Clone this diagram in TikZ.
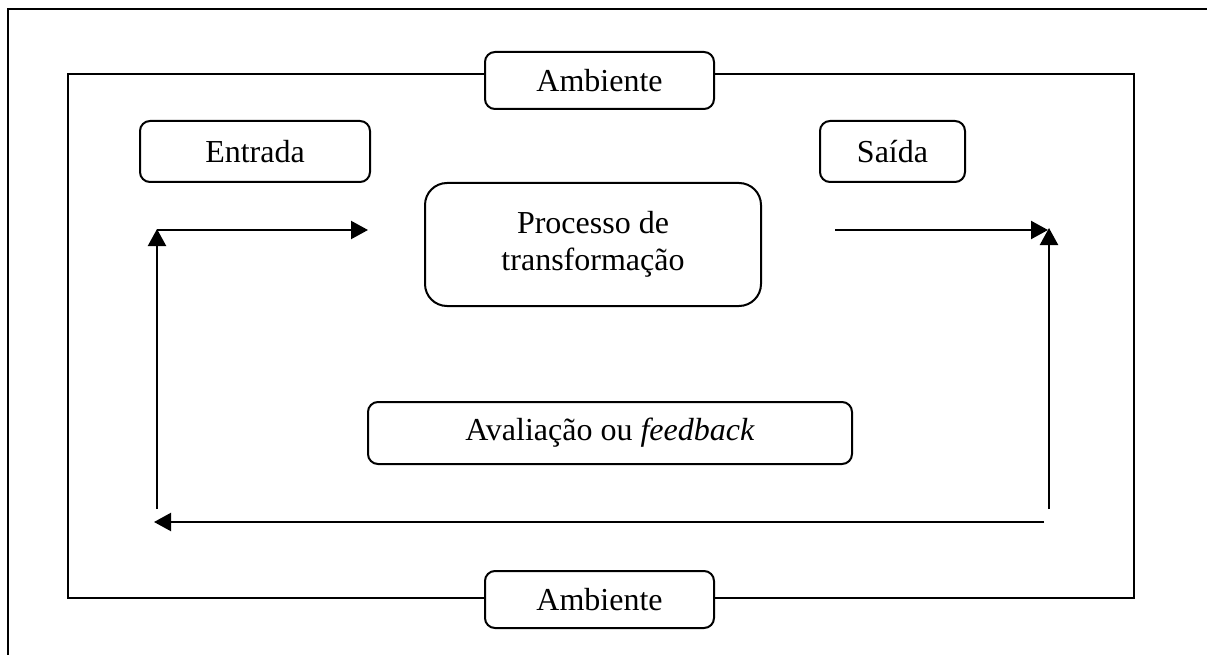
\documentclass[tikz,border=0pt]{standalone}
\usepackage{fontspec}
\setmainfont{Liberation Serif}
\usetikzlibrary{arrows.meta}
\begin{document}
\begin{tikzpicture}[x=1pt,y=-1pt,
  line width=2pt,
  box/.style={draw, line width=2pt, rounded corners=10pt, fill=white,
    inner sep=0pt, align=center, font=\fontsize{32}{37}\selectfont},
  flow/.style={line width=2.2pt, -{Triangle[length=17pt,width=18pt]}}
]
\useasboundingbox (0,0) rectangle (1207,655);
% outer frame (only top and left edges visible)
\draw[line width=2pt] (8,655) -- (8,9) -- (1207,9);
% inner environment rectangle
\draw[line width=2pt] (68,74) rectangle (1134,598);

\node[box, minimum width=229pt, minimum height=57pt] (ambtop) at (599.5,80.5) {Ambiente};
\node[box, minimum width=229pt, minimum height=57pt] (ambbot) at (599.5,599.5) {Ambiente};
\node[box, minimum width=230pt, minimum height=61pt] (entrada) at (255,151.5) {Entrada};
\node[box, minimum width=145pt, minimum height=61pt] (saida) at (892.5,151.5) {Saída};
\node[box, rounded corners=22pt, minimum width=336pt, minimum height=123pt] (proc) at (593,244.5) {Processo de\\transformação};
\node[box, minimum width=484pt, minimum height=62pt] (aval) at (610,433) {Avaliação ou \textit{feedback}};

\coordinate (lb) at (157,509);
\coordinate (lt) at (157,229);
\coordinate (inp) at (368,230);
\coordinate (outs) at (835,230);
\coordinate (oute) at (1048,230);
\coordinate (rb) at (1049,509);
\coordinate (rt) at (1049,228);
\coordinate (br) at (1044,522);
\coordinate (bl) at (154,522);

\draw[flow] (lb) -- (lt);
\draw[flow] (157,230) -- (inp);
\draw[flow] (outs) -- (oute);
\draw[flow] (rb) -- (rt);
\draw[flow] (br) -- (bl);
\end{tikzpicture}
\end{document}
